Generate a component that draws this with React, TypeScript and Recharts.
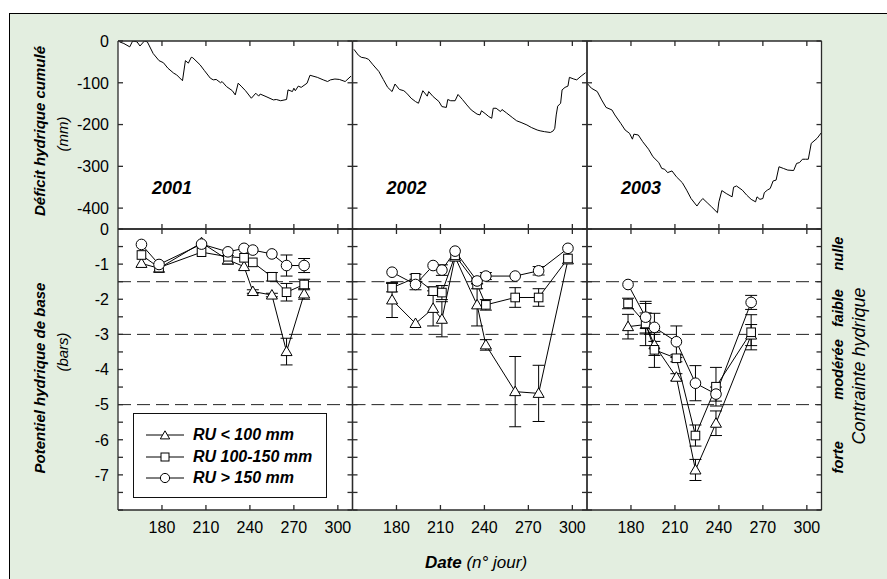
import React from 'react';
import { ComposedChart, Line, XAxis, YAxis, ReferenceLine, ErrorBar, Legend } from 'recharts';

const FONT = '"Liberation Sans", Arial, Helvetica, sans-serif';

// Déficit hydrique cumulé (mm) : [jour, valeur]
const deficit2001 = [
  [151, -2], [154, -6], [158, -14], [160, 0], [163, -2], [165, -12], [168, 0], [170, -2],
  [174, -30], [178, -47], [181, -52], [184, -65], [188, -77], [190, -81], [194, -95],
  [196, -47], [198, -53], [200, -39], [201, -40], [206, -57], [209, -71], [213, -89],
  [215, -93], [217, -92], [220, -100], [221, -97], [224, -109], [228, -119], [230, -129],
  [232, -101], [234, -108], [237, -119], [241, -137], [244, -125], [246, -132], [247, -127],
  [251, -133], [256, -141], [258, -140], [261, -143], [265, -140], [266, -117], [269, -121],
  [270, -113], [271, -119], [273, -108], [275, -111], [279, -101], [281, -82], [286, -87],
  [290, -93], [293, -97], [295, -93], [298, -91], [301, -92], [305, -97], [309, -84],
];
const deficit2002 = [
  [151, -20], [154, -34], [156, -39], [159, -41], [161, -44], [164, -57], [168, -73],
  [171, -92], [174, -111], [177, -121], [179, -103], [182, -116], [185, -119], [187, -125],
  [190, -137], [193, -145], [195, -149], [198, -119], [201, -132], [202, -121], [205, -133],
  [209, -145], [211, -157], [214, -159], [215, -140], [217, -143], [220, -143], [222, -128],
  [225, -140], [228, -153], [231, -165], [235, -175], [237, -177], [238, -167], [241, -175],
  [243, -181], [245, -185], [246, -161], [248, -161], [251, -169], [252, -164], [255, -172],
  [259, -183], [262, -191], [265, -195], [269, -201], [272, -207], [276, -213], [278, -215],
  [281, -217], [285, -219], [287, -215], [288, -209], [289, -177], [290, -156], [292, -149],
  [293, -117], [295, -111], [297, -108], [298, -87], [301, -91], [303, -93], [306, -84],
  [309, -76],
];
const deficit2003 = [
  [150, -101], [153, -113], [157, -121], [160, -141], [163, -159], [167, -165], [169, -177],
  [173, -197], [176, -213], [179, -221], [181, -235], [182, -223], [185, -225], [188, -241],
  [192, -259], [195, -277], [199, -291], [201, -305], [203, -307], [205, -315], [208, -311],
  [211, -325], [215, -339], [218, -357], [221, -377], [225, -395], [227, -385], [229, -377],
  [232, -387], [235, -397], [239, -411], [240, -385], [242, -358], [245, -365], [249, -373],
  [250, -350], [252, -347], [256, -357], [259, -369], [262, -379], [265, -385], [266, -373],
  [268, -379], [270, -377], [271, -363], [273, -357], [275, -353], [277, -335], [279, -333],
  [281, -301], [284, -305], [287, -309], [291, -310], [293, -293], [295, -291], [297, -283],
  [299, -283], [301, -283], [303, -245], [307, -233], [310, -219],
];

// Potentiel hydrique de base (bars)
const jours2001 = [166, 178, 207, 225, 236, 242, 255, 265, 277];
const tri2001 = [-0.98, -1.12, -0.39, -0.88, -1.07, -1.78, -1.88, -3.49, -1.85];
const car2001 = [-0.74, -1.1, -0.66, -0.79, -0.82, -0.95, -1.36, -1.8, -1.58];
const cer2001 = [-0.44, -1.01, -0.43, -0.65, -0.55, -0.6, -0.71, -1.04, -1.04];
const triErr2001 = [0, 0, 0, 0.12, 0, 0.05, 0.05, 0.38, 0.15];
const carErr2001 = [0, 0, 0, 0, 0, 0, 0.12, 0.25, 0.15];
const cerErr2001 = [0, 0, 0, 0, 0, 0, 0, 0.3, 0.2];

const jours2002 = [177, 193, 205, 211, 220, 235, 241, 261, 277, 297];
const tri2002 = [-2.02, -2.69, -2.26, -2.57, -0.8, -2.16, -3.3, -4.63, -4.68, -0.88];
const car2002 = [-1.67, -1.39, -1.77, -1.81, -0.75, -1.58, -2.16, -1.95, -1.95, -0.84];
const cer2002 = [-1.23, -1.58, -1.04, -1.17, -0.63, -1.48, -1.34, -1.34, -1.19, -0.55];
const triErr2002 = [0.5, 0, 0.5, 0.5, 0, 0.6, 0.15, 1.0, 0.8, 0];
const carErr2002 = [0.12, 0.1, 0.12, 0.2, 0, 0.12, 0.15, 0.28, 0.25, 0];
const cerErr2002 = [0, 0.15, 0, 0.15, 0, 0.08, 0.1, 0, 0.12, 0];

const jours2003 = [178, 190, 196, 211, 224, 238, 262];
const tri2003 = [-2.78, -2.72, -3.3, -4.22, -6.86, -5.53, -3.02];
const car2003 = [-2.12, -2.69, -3.44, -3.68, -5.88, -4.49, -2.94];
const cer2003 = [-1.58, -2.51, -2.8, -3.21, -4.39, -4.7, -2.09];
const triErr2003 = [0.35, 0.6, 0.3, 0.1, 0.3, 0.35, 0.3];
const carErr2003 = [0.15, 0.3, 0.5, 0.1, 0.3, 0.55, 0.5];
const cerErr2003 = [0, 0.45, 0.4, 0.45, 0.5, 0.2, 0.2];

const dayTicks = [180, 210, 240, 270, 300];
const deficitTicks = [0, -100, -200, -300, -400];
const potTicks = [0, -0.5, -1, -1.5, -2, -2.5, -3, -3.5, -4, -4.5, -5, -5.5, -6, -6.5, -7, -7.5, -8];
const seuils = [-1.5, -3, -5];
const annees = ['2001', '2002', '2003'];
const seriesNames = ['RU < 100 mm', 'RU 100-150 mm', 'RU > 150 mm'];
const zones = ['nulle', 'faible', 'modérée', 'forte'];
const zoneCentres = [-0.7, -2.25, -4, -6.5];

const W = 887;
const H = 579;
const PX = [118, 352.5, 587];
const PW = 234.5;
const TOP_Y = 41;
const TOP_H = 188;
const BOT_Y = 229;
const BOT_H = 281;
const AX = '#2b2b2b';

const toDeficit = (pts: number[][]) => pts.map(([day, v]) => ({ day, v }));
const toPot = (
  days: number[], tri: number[], car: number[], cer: number[],
  triE: number[], carE: number[], cerE: number[],
) => days.map((day, i) => ({
  day, tri: tri[i], car: car[i], cer: cer[i], triE: triE[i], carE: carE[i], cerE: cerE[i],
}));

const deficitData = [toDeficit(deficit2001), toDeficit(deficit2002), toDeficit(deficit2003)];
const potData = [
  toPot(jours2001, tri2001, car2001, cer2001, triErr2001, carErr2001, cerErr2001),
  toPot(jours2002, tri2002, car2002, cer2002, triErr2002, carErr2002, cerErr2002),
  toPot(jours2003, tri2003, car2003, cer2003, triErr2003, carErr2003, cerErr2003),
];

const Blank = () => <g />;

const DefTick = (p: any) => (
  <text x={p.x} y={p.y} dy="0.36em" textAnchor="end" fontSize={16} fontFamily={FONT} fill="#000">
    {p.payload.value}
  </text>
);

const PotTick = (p: any) => {
  const v = p.payload.value;
  if (!Number.isInteger(v) || v === -8) return <g />;
  return (
    <text x={p.x} y={p.y} dy="0.36em" textAnchor="end" fontSize={16} fontFamily={FONT} fill="#000">
      {v}
    </text>
  );
};

const DayTick = (p: any) => (
  <text x={p.x} y={p.y} dy="0.71em" textAnchor="middle" fontSize={16} fontFamily={FONT} fill="#000">
    {p.payload.value}
  </text>
);

const triPath = (cx: number, cy: number, s = 1) =>
  `M${cx},${cy - 5.5 * s}L${cx + 5.5 * s},${cy + 4 * s}L${cx - 5.5 * s},${cy + 4 * s}Z`;

const TriDot = (p: any) =>
  p.cx == null ? <g key={`t${p.index}`} /> : (
    <path key={`t${p.index}`} d={triPath(p.cx, p.cy)} fill="#fff" stroke="#000" strokeWidth={1} />
  );
const SqDot = (p: any) =>
  p.cx == null ? <g key={`s${p.index}`} /> : (
    <rect key={`s${p.index}`} x={p.cx - 4.3} y={p.cy - 4.3} width={8.6} height={8.6} fill="#fff" stroke="#000" strokeWidth={1} />
  );
const CiDot = (p: any) =>
  p.cx == null ? <g key={`c${p.index}`} /> : (
    <circle key={`c${p.index}`} cx={p.cx} cy={p.cy} r={5.3} fill="#fff" stroke="#000" strokeWidth={1} />
  );

const LegendBox = () => (
  <div style={{
    position: 'relative', width: 194, height: 85, boxSizing: 'border-box', border: '1.3px solid #111',
    background: '#fff', fontFamily: FONT,
  }}>
    {seriesNames.map((name, i) => {
      const cy = 21 + i * 21.5;
      return (
        <div key={name} style={{ position: 'absolute', left: 0, top: cy - 10, height: 20, width: 194 }}>
          <svg width={56} height={20} style={{ position: 'absolute', left: 0, top: 0 }}>
            <line x1={12} x2={50} y1={10} y2={10} stroke="#000" strokeWidth={1} />
            {i === 0 && <path d={triPath(31, 10.5, 0.85)} fill="#fff" stroke="#000" />}
            {i === 1 && <rect x={27} y={6} width={8} height={8} fill="#fff" stroke="#000" />}
            {i === 2 && <circle cx={31} cy={10} r={4.6} fill="#fff" stroke="#000" />}
          </svg>
          <span style={{
            position: 'absolute', left: 59, top: 0, lineHeight: '20px', fontSize: 16,
            fontWeight: 'bold', fontStyle: 'italic', color: '#000', whiteSpace: 'nowrap',
          }}>
            {name}
          </span>
        </div>
      );
    })}
  </div>
);

const axisStyle = {
  axisLine: { stroke: AX, strokeWidth: 1.3 },
  tickLine: { stroke: AX, strokeWidth: 1.3 },
  tickSize: -5,
  allowDataOverflow: true,
  interval: 0 as const,
};

function Panel({ col, row, data, children }: { col: number; row: number; data: any[]; children: React.ReactNode }) {
  const top = row === 0 ? TOP_Y : BOT_Y;
  const h = row === 0 ? TOP_H : BOT_H;
  // axes are 1px wide/high, the margins leave the plot area exactly on the panel
  const margin = { top: top - 1, left: PX[col] - 1, right: W - PX[col] - PW - 1, bottom: H - top - h - 1 };
  const yDomain = row === 0 ? [-450, 0] : [-8, 0];
  const yTicks = row === 0 ? deficitTicks : potTicks;
  const yTick = col === 0 ? (row === 0 ? DefTick : PotTick) : Blank;
  return (
    <div style={{ position: 'absolute', left: 0, top: 0 }}>
      <ComposedChart width={W} height={H} margin={margin} data={data}>
        <XAxis xAxisId="b" orientation="bottom" type="number" dataKey="day" domain={[150, 310]}
          ticks={dayTicks} height={1} tickMargin={17} tick={row === 1 ? DayTick : Blank} {...axisStyle} />
        <XAxis xAxisId="t" orientation="top" type="number" dataKey="day" domain={[150, 310]}
          ticks={dayTicks} height={1} tick={Blank} {...axisStyle} />
        <YAxis yAxisId="l" orientation="left" type="number" domain={yDomain}
          ticks={yTicks} width={1} tickMargin={14} tick={yTick} {...axisStyle} />
        <YAxis yAxisId="r" orientation="right" type="number" domain={yDomain}
          ticks={yTicks} width={1} tick={Blank} {...axisStyle} />
        {children}
      </ComposedChart>
    </div>
  );
}

const rot = (x: number, y: number) => `translate(${x},${y}) rotate(-90)`;

export default function App() {
  const potToY = (v: number) => BOT_Y - (v / 8) * BOT_H;
  return (
    <div style={{ position: 'absolute', left: 0, top: 0, width: W, height: H, overflow: 'hidden', background: '#fff' }}>
      <div style={{
        position: 'absolute', left: 9, top: 13, width: 900, height: 600, background: '#e3eee0',
        borderLeft: '1.6px solid #000', borderTop: '1.6px solid #000',
      }} />
      <div style={{ position: 'absolute', left: PX[0], top: TOP_Y, width: PW * 3, height: TOP_H + BOT_H, background: '#fff' }} />

      {deficitData.map((d, i) => (
        <Panel key={`d${i}`} col={i} row={0} data={d}>
          <Line xAxisId="b" yAxisId="l" type="linear" dataKey="v" stroke="#000" strokeWidth={1}
            dot={false} activeDot={false} isAnimationActive={false} />
        </Panel>
      ))}

      {potData.map((d, i) => (
        <Panel key={`p${i}`} col={i} row={1} data={d}>
          {seuils.map((s) => (
            <ReferenceLine key={s} xAxisId="b" yAxisId="l" y={s} stroke="#222" strokeWidth={1} strokeDasharray="13 6" />
          ))}
          <Line xAxisId="b" yAxisId="l" type="linear" dataKey="tri" name={seriesNames[0]} stroke="#000"
            strokeWidth={1} dot={TriDot} activeDot={false} isAnimationActive={false}>
            <ErrorBar dataKey="triE" width={6} stroke="#000" strokeWidth={1} direction="y" />
          </Line>
          <Line xAxisId="b" yAxisId="l" type="linear" dataKey="car" name={seriesNames[1]} stroke="#000"
            strokeWidth={1} dot={SqDot} activeDot={false} isAnimationActive={false}>
            <ErrorBar dataKey="carE" width={6} stroke="#000" strokeWidth={1} direction="y" />
          </Line>
          <Line xAxisId="b" yAxisId="l" type="linear" dataKey="cer" name={seriesNames[2]} stroke="#000"
            strokeWidth={1} dot={CiDot} activeDot={false} isAnimationActive={false}>
            <ErrorBar dataKey="cerE" width={6} stroke="#000" strokeWidth={1} direction="y" />
          </Line>
          {i === 0 && (
            <Legend layout="vertical" align="center" verticalAlign="middle" content={() => <LegendBox />}
              wrapperStyle={{ left: 133, top: 413, width: 194, height: 85 }} />
          )}
        </Panel>
      ))}

      <svg width={W} height={H} style={{ position: 'absolute', left: 0, top: 0 }} fontFamily={FONT}>
        <text transform={rot(40, 131)} dy="0.35em" textAnchor="middle" fontSize={15} fontWeight="bold" fontStyle="italic">
          Déficit hydrique cumulé
        </text>
        <text transform={rot(63, 134)} dy="0.35em" textAnchor="middle" fontSize={15} fontStyle="italic">(mm)</text>
        <text transform={rot(40, 378)} dy="0.35em" textAnchor="middle" fontSize={15} fontWeight="bold" fontStyle="italic">
          Potentiel hydrique de base
        </text>
        <text transform={rot(63, 352)} dy="0.35em" textAnchor="middle" fontSize={15} fontStyle="italic">(bars)</text>

        {annees.map((a, i) => (
          <text key={a} x={PX[i] + 54} y={188} dy="0.35em" textAnchor="middle" fontSize={18} fontWeight="bold" fontStyle="italic">
            {a}
          </text>
        ))}

        <text x={476} y={562} dy="0.35em" textAnchor="middle" fontSize={17}>
          <tspan fontWeight="bold" fontStyle="italic">Date</tspan>
          <tspan fontStyle="italic"> (n° jour)</tspan>
        </text>

        {zones.map((z, i) => (
          <text key={z} transform={rot(838, potToY(zoneCentres[i]))} dy="0.35em" textAnchor="middle"
            fontSize={14.5} fontWeight="bold" fontStyle="italic">
            {z}
          </text>
        ))}
        <text transform={rot(859, 366)} dy="0.35em" textAnchor="middle" fontSize={18} fontStyle="italic">
          Contrainte hydrique
        </text>
      </svg>
    </div>
  );
}
